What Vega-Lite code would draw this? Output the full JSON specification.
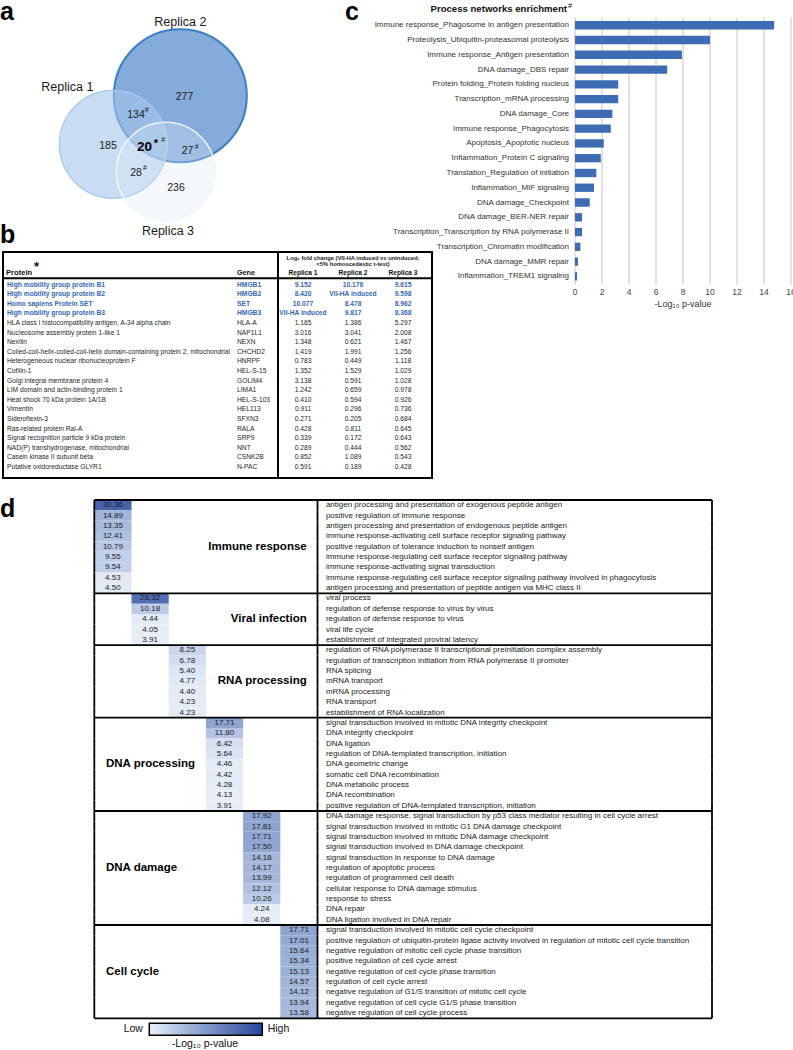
{
"$schema":"https://vega.github.io/schema/vega-lite/v6.json",
"width":793,
"height":1050,
"autosize":"none",
"padding":0,
"config":{
  "font":"Liberation Sans",
  "view":{"stroke":null},
  "legend":{"labelFont":"Liberation Sans","titleFont":"Liberation Sans"},
  "text":{"font":"Liberation Sans"}
},
"datasets":{
  "venn":[
    {"set":"Replica 2","cx":18.03,"cy":7.77,"r":6.65},
    {"set":"Replica 1","cx":11.33,"cy":12.63,"r":5.4},
    {"set":"Replica 3","cx":16.58,"cy":15.37,"r":4.95}
  ],
  "vennText":[
    {"t":"Replica 1","x":6.73,"y":6.93,"k":"rep"},
    {"t":"Replica 2","x":18.03,"y":0.37,"k":"rep"},
    {"t":"Replica 3","x":16.8,"y":21.3,"k":"rep"},
    {"t":"277","x":18.45,"y":7.87,"k":"num"},
    {"t":"134","x":13.6,"y":9.7,"k":"num"},
    {"t":"#","x":14.67,"y":9.2,"k":"sup"},
    {"t":"185","x":10.8,"y":12.77,"k":"num"},
    {"t":"20","x":14.45,"y":12.87,"k":"big"},
    {"t":"*","x":15.6,"y":12.6,"k":"star"},
    {"t":"#","x":16.33,"y":12.2,"k":"sup"},
    {"t":"27","x":18.75,"y":13.27,"k":"num"},
    {"t":"#","x":19.67,"y":12.87,"k":"sup"},
    {"t":"28","x":13.6,"y":15.47,"k":"num"},
    {"t":"#","x":14.5,"y":15.03,"k":"sup"},
    {"t":"236","x":17.6,"y":17.03,"k":"num"},
    {"t":"a","x":0.0,"y":0.2,"k":"letter"}
  ],
  "table":[
    {"protein":"High mobility group protein B1","gene":"HMGB1","r1":"9.152","r2":"10.176","r3":"9.615","hl":true},
    {"protein":"High mobility group protein B2","gene":"HMGB2","r1":"8.420","r2":"VII-HA induced","r3":"9.598","hl":true},
    {"protein":"Homo sapiens Protein SET","gene":"SET","r1":"10.077","r2":"8.478","r3":"8.962","hl":true},
    {"protein":"High mobility group protein B3","gene":"HMGB3","r1":"VII-HA induced","r2":"9.817","r3":"8.368","hl":true},
    {"protein":"HLA class I histocompatibility antigen, A-34 alpha chain","gene":"HLA-A","r1":"1.165","r2":"1.386","r3":"5.297","hl":false},
    {"protein":"Nucleosome assembly protein 1-like 1","gene":"NAP1L1","r1":"3.016","r2":"3.041","r3":"2.008","hl":false},
    {"protein":"Nexilin","gene":"NEXN","r1":"1.348","r2":"0.621","r3":"1.467","hl":false},
    {"protein":"Coiled-coil-helix-coiled-coil-helix domain-containing protein 2, mitochondrial","gene":"CHCHD2","r1":"1.419","r2":"1.991","r3":"1.256","hl":false},
    {"protein":"Heterogeneous nuclear ribonucleoprotein F","gene":"HNRPF","r1":"0.783","r2":"0.449","r3":"1.118","hl":false},
    {"protein":"Cofilin-1","gene":"HEL-S-15","r1":"1.352","r2":"1.529","r3":"1.029","hl":false},
    {"protein":"Golgi integral membrane protein 4","gene":"GOLIM4","r1":"3.138","r2":"0.591","r3":"1.028","hl":false},
    {"protein":"LIM domain and actin-binding protein 1","gene":"LIMA1","r1":"1.242","r2":"0.659","r3":"0.978","hl":false},
    {"protein":"Heat shock 70 kDa protein 1A/1B","gene":"HEL-S-103","r1":"0.410","r2":"0.594","r3":"0.926","hl":false},
    {"protein":"Vimentin","gene":"HEL113","r1":"0.911","r2":"0.296","r3":"0.736","hl":false},
    {"protein":"Sideroflexin-3","gene":"SFXN3","r1":"0.271","r2":"0.205","r3":"0.684","hl":false},
    {"protein":"Ras-related protein Ral-A","gene":"RALA","r1":"0.428","r2":"0.811","r3":"0.645","hl":false},
    {"protein":"Signal recognition particle 9 kDa protein","gene":"SRP9","r1":"0.339","r2":"0.172","r3":"0.643","hl":false},
    {"protein":"NAD(P) transhydrogenase, mitochondrial","gene":"NNT","r1":"0.289","r2":"0.444","r3":"0.562","hl":false},
    {"protein":"Casein kinase II subunit beta","gene":"CSNK2B","r1":"0.852","r2":"1.089","r3":"0.543","hl":false},
    {"protein":"Putative oxidoreductase GLYR1","gene":"N-PAC","r1":"0.591","r2":"0.189","r3":"0.428","hl":false}
  ],
  "networks":[
    {"process":"Immune response_Phagosome in antigen presentation","p":14.75},
    {"process":"Proteolysis_Ubiquitin-proteasomal proteolysis","p":10.0},
    {"process":"Immune response_Antigen presentation","p":7.92},
    {"process":"DNA damage_DBS repair","p":6.83},
    {"process":"Protein folding_Protein folding nucleus","p":3.2},
    {"process":"Transcription_mRNA processing","p":3.2},
    {"process":"DNA damage_Core","p":2.77},
    {"process":"Immune response_Phagocytosis","p":2.65},
    {"process":"Apoptosis_Apoptotic nucleus","p":2.13},
    {"process":"Inflammation_Protein C signaling","p":1.91},
    {"process":"Translation_Regulation of initiation","p":1.58},
    {"process":"Inflammation_MIF signaling","p":1.41},
    {"process":"DNA damage_Checkpoint","p":1.09},
    {"process":"DNA damage_BER-NER repair","p":0.52},
    {"process":"Transcription_Transcription by RNA polymerase II","p":0.52},
    {"process":"Transcription_Chromatin modification","p":0.4},
    {"process":"DNA damage_MMR repair","p":0.22},
    {"process":"Inflammation_TREM1 signaling","p":0.15}
  ],
  "ticks":[{"t":0},{"t":2},{"t":4},{"t":6},{"t":8},{"t":10},{"t":12},{"t":14},{"t":16}],
  "go":[
    {"group":"Immune response","v":30.36,"term":"antigen processing and presentation of exogenous peptide antigen","first":true},
    {"group":"Immune response","v":14.89,"term":"positive regulation of immune response"},
    {"group":"Immune response","v":13.35,"term":"antigen processing and presentation of endogenous peptide antigen"},
    {"group":"Immune response","v":12.41,"term":"immune response-activating cell surface receptor signaling pathway"},
    {"group":"Immune response","v":10.79,"term":"positive regulation of tolerance induction to nonself antigen","mid":true},
    {"group":"Immune response","v":9.55,"term":"immune response-regulating cell surface receptor signaling pathway"},
    {"group":"Immune response","v":9.54,"term":"immune response-activating signal transduction"},
    {"group":"Immune response","v":4.53,"term":"immune response-regulating cell surface receptor signaling pathway involved in phagocytosis"},
    {"group":"Immune response","v":4.50,"term":"antigen processing and presentation of peptide antigen via MHC class II"},
    {"group":"Viral infection","v":28.32,"term":"viral process","first":true},
    {"group":"Viral infection","v":10.18,"term":"regulation of defense response to virus by virus"},
    {"group":"Viral infection","v":4.44,"term":"regulation of defense response to virus","mid":true},
    {"group":"Viral infection","v":4.05,"term":"viral life cycle"},
    {"group":"Viral infection","v":3.91,"term":"establishment of integrated proviral latency"},
    {"group":"RNA processing","v":8.25,"term":"regulation of RNA polymerase II transcriptional preinitiation complex assembly","first":true},
    {"group":"RNA processing","v":6.78,"term":"regulation of transcription initiation from RNA polymerase II promoter"},
    {"group":"RNA processing","v":5.40,"term":"RNA splicing"},
    {"group":"RNA processing","v":4.77,"term":"mRNA transport","mid":true},
    {"group":"RNA processing","v":4.40,"term":"mRNA processing"},
    {"group":"RNA processing","v":4.23,"term":"RNA transport"},
    {"group":"RNA processing","v":4.23,"term":"establishment of RNA localization"},
    {"group":"DNA processing","v":17.71,"term":"signal transduction involved in mitotic DNA integrity checkpoint","first":true},
    {"group":"DNA processing","v":11.80,"term":"DNA integrity checkpoint"},
    {"group":"DNA processing","v":6.42,"term":"DNA ligation"},
    {"group":"DNA processing","v":5.64,"term":"regulation of DNA-templated transcription, initiation"},
    {"group":"DNA processing","v":4.46,"term":"DNA geometric change","mid":true},
    {"group":"DNA processing","v":4.42,"term":"somatic cell DNA recombination"},
    {"group":"DNA processing","v":4.28,"term":"DNA metabolic process"},
    {"group":"DNA processing","v":4.13,"term":"DNA recombination"},
    {"group":"DNA processing","v":3.91,"term":"positive regulation of DNA-templated transcription, initiation"},
    {"group":"DNA damage","v":17.92,"term":"DNA damage response, signal transduction by p53 class mediator resulting in cell cycle arrest","first":true},
    {"group":"DNA damage","v":17.81,"term":"signal transduction involved in mitotic G1 DNA damage checkpoint"},
    {"group":"DNA damage","v":17.71,"term":"signal transduction involved in mitotic DNA damage checkpoint"},
    {"group":"DNA damage","v":17.50,"term":"signal transduction involved in DNA damage checkpoint"},
    {"group":"DNA damage","v":14.18,"term":"signal transduction in response to DNA damage"},
    {"group":"DNA damage","v":14.17,"term":"regulation of apoptotic process","mid":true},
    {"group":"DNA damage","v":13.99,"term":"regulation of programmed cell death"},
    {"group":"DNA damage","v":12.12,"term":"cellular response to DNA damage stimulus"},
    {"group":"DNA damage","v":10.26,"term":"response to stress"},
    {"group":"DNA damage","v":4.24,"term":"DNA repair"},
    {"group":"DNA damage","v":4.08,"term":"DNA ligation involved in DNA repair"},
    {"group":"Cell cycle","v":17.71,"term":"signal transduction involved in mitotic cell cycle checkpoint","first":true},
    {"group":"Cell cycle","v":17.01,"term":"positive regulation of ubiquitin-protein ligase activity involved in regulation of mitotic cell cycle transition"},
    {"group":"Cell cycle","v":15.64,"term":"negative regulation of mitotic cell cycle phase transition"},
    {"group":"Cell cycle","v":15.34,"term":"positive regulation of cell cycle arrest"},
    {"group":"Cell cycle","v":15.13,"term":"negative regulation of cell cycle phase transition","mid":true},
    {"group":"Cell cycle","v":14.57,"term":"regulation of cell cycle arrest"},
    {"group":"Cell cycle","v":14.12,"term":"negative regulation of G1/S transition of mitotic cell cycle"},
    {"group":"Cell cycle","v":13.94,"term":"negative regulation of cell cycle G1/S phase transition"},
    {"group":"Cell cycle","v":13.58,"term":"negative regulation of cell cycle process","last":true}
  ]
},
"resolve":{
  "scale":{"x":"independent","y":"independent","size":"independent","color":"independent","strokeOpacity":"independent"},
  "axis":{"x":"independent","y":"independent"}
},
"layer":[
  {"layer":[
    {"data":{"name":"venn"},"transform":[{"filter":"datum.set == 'Replica 2'"}],
     "mark":{"type":"point","shape":"circle","filled":true,"fill":"#84abdb","fillOpacity":1,"stroke":"#3a7fc1","strokeWidth":2,"strokeOpacity":1,"opacity":1},
     "encoding":{
       "x":{"field":"cx","type":"quantitative","scale":{"domain":[0,79.3],"nice":false,"zero":false},"axis":null},
       "y":{"field":"cy","type":"quantitative","scale":{"domain":[-1.8,103.2],"nice":false,"zero":false,"reverse":true},"axis":null},
       "size":{"field":"r","type":"quantitative","scale":{"type":"pow","exponent":2,"domain":[0,10],"range":[0,40000]},"legend":null}
     }},
    {"data":{"name":"venn"},"transform":[{"filter":"datum.set == 'Replica 1'"}],
     "mark":{"type":"point","shape":"circle","filled":true,"fill":"#a3c6ea","fillOpacity":0.6,"stroke":"#a6c8ea","strokeWidth":1.2,"strokeOpacity":1,"opacity":1},
     "encoding":{
       "x":{"field":"cx","type":"quantitative"},
       "y":{"field":"cy","type":"quantitative"},
       "size":{"field":"r","type":"quantitative","legend":null}
     }},
    {"data":{"name":"venn"},"transform":[{"filter":"datum.set == 'Replica 3'"}],
     "mark":{"type":"point","shape":"circle","filled":true,"fill":"#dde9f7","fillOpacity":0.33,"stroke":"#f4f8fd","strokeWidth":1.5,"strokeOpacity":0.9,"opacity":1},
     "encoding":{
       "x":{"field":"cx","type":"quantitative"},
       "y":{"field":"cy","type":"quantitative"},
       "size":{"field":"r","type":"quantitative","legend":null}
     }},
    {"data":{"name":"vennText"},"transform":[{"filter":"datum.k == 'rep'"}],
     "mark":{"type":"text","fontSize":12.5,"baseline":"middle","color":"#1a1a1a"},
     "encoding":{"x":{"field":"x","type":"quantitative"},"y":{"field":"y","type":"quantitative"},"text":{"field":"t"}}},
    {"data":{"name":"vennText"},"transform":[{"filter":"datum.k == 'num'"}],
     "mark":{"type":"text","fontSize":10.5,"baseline":"middle","color":"#1a1a1a"},
     "encoding":{"x":{"field":"x","type":"quantitative"},"y":{"field":"y","type":"quantitative"},"text":{"field":"t"}}},
    {"data":{"name":"vennText"},"transform":[{"filter":"datum.k == 'sup'"}],
     "mark":{"type":"text","fontSize":7,"baseline":"middle","color":"#1a1a1a"},
     "encoding":{"x":{"field":"x","type":"quantitative"},"y":{"field":"y","type":"quantitative"},"text":{"field":"t"}}},
    {"data":{"name":"vennText"},"transform":[{"filter":"datum.k == 'big'"}],
     "mark":{"type":"text","fontSize":13.5,"fontWeight":"bold","baseline":"middle","color":"#000"},
     "encoding":{"x":{"field":"x","type":"quantitative"},"y":{"field":"y","type":"quantitative"},"text":{"field":"t"}}},
    {"data":{"name":"vennText"},"transform":[{"filter":"datum.k == 'star'"}],
     "mark":{"type":"text","fontSize":11,"fontWeight":"bold","baseline":"middle","color":"#000"},
     "encoding":{"x":{"field":"x","type":"quantitative"},"y":{"field":"y","type":"quantitative"},"text":{"field":"t"}}},
    {"data":{"name":"vennText"},"transform":[{"filter":"datum.k == 'letter'"}],
     "mark":{"type":"text","fontSize":25,"fontWeight":"bold","align":"left","baseline":"alphabetic","color":"#000"},
     "encoding":{"x":{"field":"x","type":"quantitative"},"y":{"field":"y","type":"quantitative"},"text":{"field":"t"}}}
  ]},
  {"layer":[
    {"data":{"values":[{"box":"border"}]},"mark":{"type":"rect","fill":"#ffffff","fillOpacity":0,"stroke":"#000","strokeWidth":2},
     "encoding":{"x":{"datum":3,"type":"quantitative","scale":{"domain":[0,793],"nice":false,"zero":false},"axis":null},"x2":{"datum":432},
                 "y":{"datum":-2.406,"type":"quantitative","scale":{"domain":[-28.656,80.719],"nice":false,"zero":false,"reverse":true},"axis":null},"y2":{"datum":21.135}}},
    {"data":{"values":[{"line":"header"}]},"mark":{"type":"rule","strokeWidth":2,"color":"#000"},
     "encoding":{"x":{"datum":3,"type":"quantitative"},"x2":{"datum":432},"y":{"datum":0.333,"type":"quantitative"}}},
    {"data":{"values":[{"line":"divider"}]},"mark":{"type":"rule","strokeWidth":2,"color":"#000"},
     "encoding":{"x":{"datum":278,"type":"quantitative"},"y":{"datum":-2.406,"type":"quantitative"},"y2":{"datum":21.135}}},
    {"data":{"values":[{"h":1}]},"mark":{"type":"text","text":"Log₂ fold change (VII-HA induced vs uninduced;","fontSize":5.8,"fontWeight":"bold","baseline":"middle","color":"#222"},
     "encoding":{"x":{"datum":353,"type":"quantitative"},"y":{"datum":-1.75,"type":"quantitative"}}},
    {"data":{"values":[{"h":1}]},"mark":{"type":"text","text":"<5% homoscedastic t-test)","fontSize":5.8,"fontWeight":"bold","baseline":"middle","color":"#222"},
     "encoding":{"x":{"datum":353,"type":"quantitative"},"y":{"datum":-1.16,"type":"quantitative"}}},
    {"data":{"values":[{"h":1}]},"mark":{"type":"text","text":"Replica 1","fontSize":6.6,"fontWeight":"bold","baseline":"middle","color":"#111"},
     "encoding":{"x":{"datum":303,"type":"quantitative"},"y":{"datum":-0.167,"type":"quantitative"}}},
    {"data":{"values":[{"h":1}]},"mark":{"type":"text","text":"Replica 2","fontSize":6.6,"fontWeight":"bold","baseline":"middle","color":"#111"},
     "encoding":{"x":{"datum":353,"type":"quantitative"},"y":{"datum":-0.167,"type":"quantitative"}}},
    {"data":{"values":[{"h":1}]},"mark":{"type":"text","text":"Replica 3","fontSize":6.6,"fontWeight":"bold","baseline":"middle","color":"#111"},
     "encoding":{"x":{"datum":403,"type":"quantitative"},"y":{"datum":-0.167,"type":"quantitative"}}},
    {"data":{"values":[{"h":1}]},"mark":{"type":"text","text":"Protein","fontSize":7.6,"fontWeight":"bold","align":"left","baseline":"middle","color":"#111"},
     "encoding":{"x":{"datum":6,"type":"quantitative"},"y":{"datum":-0.167,"type":"quantitative"}}},
    {"data":{"values":[{"h":1}]},"mark":{"type":"text","text":"*","fontSize":13,"fontWeight":"bold","align":"left","baseline":"middle","color":"#111"},
     "encoding":{"x":{"datum":34,"type":"quantitative"},"y":{"datum":-0.85,"type":"quantitative"}}},
    {"data":{"values":[{"h":1}]},"mark":{"type":"text","text":"Gene","fontSize":7.2,"fontWeight":"bold","align":"left","baseline":"middle","color":"#111"},
     "encoding":{"x":{"datum":237,"type":"quantitative"},"y":{"datum":-0.167,"type":"quantitative"}}},
    {"data":{"values":[{"h":1}]},"mark":{"type":"text","text":"b","fontSize":25,"fontWeight":"bold","align":"left","baseline":"alphabetic","color":"#000"},
     "encoding":{"x":{"datum":0,"type":"quantitative"},"y":{"datum":-3.31,"type":"quantitative"}}},
    {"data":{"name":"table"},"transform":[{"window":[{"op":"row_number","as":"i"}]}],
     "mark":{"type":"text","align":"left","baseline":"middle","fontSize":6.7,"fontWeight":{"expr":"datum.hl ? 'bold' : 'normal'"}},
     "encoding":{"x":{"datum":7,"type":"quantitative"},"y":{"field":"i","type":"quantitative"},"text":{"field":"protein"},
                 "color":{"condition":{"test":"datum.hl","value":"#3567b5"},"value":"#262626"}}},
    {"data":{"name":"table"},"transform":[{"window":[{"op":"row_number","as":"i"}]}],
     "mark":{"type":"text","align":"left","baseline":"middle","fontSize":6.7,"fontWeight":{"expr":"datum.hl ? 'bold' : 'normal'"}},
     "encoding":{"x":{"datum":237,"type":"quantitative"},"y":{"field":"i","type":"quantitative"},"text":{"field":"gene"},
                 "color":{"condition":{"test":"datum.hl","value":"#3567b5"},"value":"#262626"}}},
    {"data":{"name":"table"},"transform":[{"window":[{"op":"row_number","as":"i"}]}],
     "mark":{"type":"text","align":"center","baseline":"middle","fontSize":6.7,"fontWeight":{"expr":"datum.hl ? 'bold' : 'normal'"}},
     "encoding":{"x":{"datum":303,"type":"quantitative"},"y":{"field":"i","type":"quantitative"},"text":{"field":"r1"},
                 "color":{"condition":{"test":"datum.hl","value":"#3567b5"},"value":"#262626"}}},
    {"data":{"name":"table"},"transform":[{"window":[{"op":"row_number","as":"i"}]}],
     "mark":{"type":"text","align":"center","baseline":"middle","fontSize":6.7,"fontWeight":{"expr":"datum.hl ? 'bold' : 'normal'"}},
     "encoding":{"x":{"datum":353,"type":"quantitative"},"y":{"field":"i","type":"quantitative"},"text":{"field":"r2"},
                 "color":{"condition":{"test":"datum.hl","value":"#3567b5"},"value":"#262626"}}},
    {"data":{"name":"table"},"transform":[{"window":[{"op":"row_number","as":"i"}]}],
     "mark":{"type":"text","align":"center","baseline":"middle","fontSize":6.7,"fontWeight":{"expr":"datum.hl ? 'bold' : 'normal'"}},
     "encoding":{"x":{"datum":403,"type":"quantitative"},"y":{"field":"i","type":"quantitative"},"text":{"field":"r3"},
                 "color":{"condition":{"test":"datum.hl","value":"#3567b5"},"value":"#262626"}}}
  ]},
  {"layer":[
    {"data":{"name":"ticks"},
     "mark":{"type":"rule","color":"#d9d9d9","strokeWidth":1.5,"yOffset":-8,"y2Offset":8},
     "encoding":{
       "x":{"field":"t","type":"quantitative","scale":{"domain":[-42.593,16.148],"nice":false,"zero":false},"axis":null},
       "y":{"datum":"Immune response_Phagosome in antigen presentation","type":"nominal",
            "scale":{"domain":["Immune response_Phagosome in antigen presentation","Proteolysis_Ubiquitin-proteasomal proteolysis","Immune response_Antigen presentation","DNA damage_DBS repair","Protein folding_Protein folding nucleus","Transcription_mRNA processing","DNA damage_Core","Immune response_Phagocytosis","Apoptosis_Apoptotic nucleus","Inflammation_Protein C signaling","Translation_Regulation of initiation","Inflammation_MIF signaling","DNA damage_Checkpoint","DNA damage_BER-NER repair","Transcription_Transcription by RNA polymerase II","Transcription_Chromatin modification","DNA damage_MMR repair","Inflammation_TREM1 signaling"],
                     "range":[18,283.6],"paddingInner":0.437,"paddingOuter":0.207,"round":false},"axis":null},
       "y2":{"datum":"Inflammation_TREM1 signaling"}
     }},
    {"data":{"name":"networks"},
     "mark":{"type":"bar","color":"#3d6cb4"},
     "encoding":{
       "y":{"field":"process","type":"nominal","sort":null,"axis":null},
       "x":{"field":"p","type":"quantitative","axis":null}
     }},
    {"data":{"name":"networks"},
     "mark":{"type":"text","align":"right","baseline":"middle","dx":-6,"fontSize":8,"color":"#333"},
     "encoding":{"x":{"datum":0,"type":"quantitative"},"y":{"field":"process","type":"nominal","sort":null},"text":{"field":"process"}}},
    {"data":{"name":"ticks"},
     "mark":{"type":"text","align":"center","baseline":"middle","dy":15.5,"fontSize":8.5,"color":"#444"},
     "encoding":{"x":{"field":"t","type":"quantitative"},"y":{"datum":"Inflammation_TREM1 signaling","type":"nominal"},"text":{"field":"t","type":"quantitative"}}},
    {"data":{"values":[{"h":1}]},
     "mark":{"type":"text","text":"-Log₁₀ p-value","fontSize":9,"align":"center","baseline":"middle","dy":28,"color":"#333"},
     "encoding":{"x":{"datum":8,"type":"quantitative"},"y":{"datum":"Inflammation_TREM1 signaling","type":"nominal"}}},
    {"data":{"values":[{"h":1}]},
     "mark":{"type":"text","text":"Process networks enrichment","fontSize":9.6,"fontWeight":"bold","align":"right","baseline":"alphabetic","dx":-8,"dy":-13,"color":"#111"},
     "encoding":{"x":{"datum":0,"type":"quantitative"},"y":{"datum":"Immune response_Phagosome in antigen presentation","type":"nominal"}}},
    {"data":{"values":[{"h":1}]},
     "mark":{"type":"text","text":"#","fontSize":7.5,"align":"left","baseline":"alphabetic","dx":-7,"dy":-17,"color":"#111"},
     "encoding":{"x":{"datum":0,"type":"quantitative"},"y":{"datum":"Immune response_Phagosome in antigen presentation","type":"nominal"}}},
    {"data":{"values":[{"h":1}]},
     "mark":{"type":"text","text":"c","fontSize":25,"fontWeight":"bold","align":"left","baseline":"alphabetic","dx":-230,"dy":-5,"color":"#000"},
     "encoding":{"x":{"datum":0,"type":"quantitative"},"y":{"datum":"Immune response_Phagosome in antigen presentation","type":"nominal"}}}
  ]},
  {"data":{"name":"go"},"layer":[
    {"mark":{"type":"rect"},
     "encoding":{
       "x":{"field":"group","type":"nominal","scale":{"domain":["Immune response","Viral infection","RNA processing","DNA processing","DNA damage","Cell cycle"],"range":[94.3,317.5],"paddingInner":0,"paddingOuter":0,"round":false},"axis":null},
       "y":{"field":"term","type":"nominal","sort":null,"scale":{"range":[500,1018.3],"paddingInner":0,"paddingOuter":0,"round":false},"axis":null},
       "color":{"field":"v","type":"quantitative","scale":{"domain":[3.5,36],"range":["#eaf0f9","#22479a"]},
         "legend":{"orient":"none","legendX":149.3,"legendY":1023.3,"direction":"horizontal","gradientLength":113,"gradientThickness":12,
                   "gradientStrokeColor":"#000","gradientStrokeWidth":1.5,"labelExpr":"''","labelOpacity":0,"title":null,"padding":0}}
     }},
    {"mark":{"type":"text","fontSize":8,"color":"#222","baseline":"middle"},
     "encoding":{"x":{"field":"group","type":"nominal"},"y":{"field":"term","type":"nominal","sort":null},"text":{"field":"v","type":"quantitative","format":".2f"}}},
    {"mark":{"type":"text","fontSize":8,"color":"#222","align":"left","baseline":"middle","dx":27},
     "encoding":{"x":{"datum":"Cell cycle","type":"nominal"},"y":{"field":"term","type":"nominal","sort":null},"text":{"field":"term"}}},
    {"mark":{"type":"text","fontSize":11.5,"fontWeight":"bold","align":"right","baseline":"middle","dx":7.8,"color":"#000"},
     "encoding":{"x":{"datum":"Cell cycle","type":"nominal"},"y":{"field":"term","type":"nominal","sort":null},
                 "text":{"condition":{"test":"datum.mid && (datum.group == 'Immune response' || datum.group == 'Viral infection' || datum.group == 'RNA processing')","field":"group","type":"nominal"},"value":""}}},
    {"mark":{"type":"text","fontSize":11.5,"fontWeight":"bold","align":"left","baseline":"middle","dx":-6.9,"color":"#000"},
     "encoding":{"x":{"datum":"Immune response","type":"nominal"},"y":{"field":"term","type":"nominal","sort":null},
                 "text":{"condition":{"test":"datum.mid && (datum.group == 'DNA processing' || datum.group == 'DNA damage' || datum.group == 'Cell cycle')","field":"group","type":"nominal"},"value":""}}},
    {"mark":{"type":"rule","color":"#000","strokeWidth":1.8,"xOffset":-18.6,"x2Offset":413.1},
     "encoding":{"x":{"datum":"Immune response","type":"nominal"},"x2":{"datum":"Cell cycle"},
                 "y":{"field":"term","type":"nominal","sort":null,"bandPosition":0},
                 "strokeOpacity":{"condition":{"test":"datum.first","value":1},"value":0}}},
    {"mark":{"type":"rule","color":"#000","strokeWidth":1.8,"xOffset":-18.6,"x2Offset":413.1},
     "encoding":{"x":{"datum":"Immune response","type":"nominal"},"x2":{"datum":"Cell cycle"},
                 "y":{"field":"term","type":"nominal","sort":null,"bandPosition":1},
                 "strokeOpacity":{"condition":{"test":"datum.last","value":1},"value":0}}},
    {"mark":{"type":"rule","color":"#000","strokeWidth":1.8,"xOffset":-18.6,"yOffset":-5.183,"y2Offset":5.183},
     "encoding":{"x":{"datum":"Immune response","type":"nominal"},"y":{"field":"term","type":"nominal","sort":null},"y2":{"field":"term"}}},
    {"mark":{"type":"rule","color":"#000","strokeWidth":1.8,"xOffset":18.6,"yOffset":-5.183,"y2Offset":5.183},
     "encoding":{"x":{"datum":"Cell cycle","type":"nominal"},"y":{"field":"term","type":"nominal","sort":null},"y2":{"field":"term"}}},
    {"mark":{"type":"rule","color":"#000","strokeWidth":1.8,"xOffset":413.1,"yOffset":-5.183,"y2Offset":5.183},
     "encoding":{"x":{"datum":"Cell cycle","type":"nominal"},"y":{"field":"term","type":"nominal","sort":null},"y2":{"field":"term"}}},
    {"mark":{"type":"text","fontSize":25,"fontWeight":"bold","align":"left","baseline":"alphabetic","dx":-112.9,"dy":11.8,"color":"#000"},
     "encoding":{"x":{"datum":"Immune response","type":"nominal"},"y":{"field":"term","type":"nominal","sort":null},
                 "text":{"condition":{"test":"datum.first && datum.group == 'Immune response'","value":"d"},"value":""}}},
    {"mark":{"type":"text","fontSize":10.5,"align":"right","baseline":"middle","dx":30,"dy":16,"color":"#111"},
     "encoding":{"x":{"datum":"Immune response","type":"nominal"},"y":{"field":"term","type":"nominal","sort":null},
                 "text":{"condition":{"test":"datum.last","value":"Low"},"value":""}}},
    {"mark":{"type":"text","fontSize":10.5,"align":"left","baseline":"middle","dx":154.8,"dy":16,"color":"#111"},
     "encoding":{"x":{"datum":"Immune response","type":"nominal"},"y":{"field":"term","type":"nominal","sort":null},
                 "text":{"condition":{"test":"datum.last","value":"High"},"value":""}}},
    {"mark":{"type":"text","fontSize":10.5,"align":"center","baseline":"middle","dx":92.1,"dy":31.2,"color":"#111"},
     "encoding":{"x":{"datum":"Immune response","type":"nominal"},"y":{"field":"term","type":"nominal","sort":null},
                 "text":{"condition":{"test":"datum.last","value":"-Log₁₀ p-value"},"value":""}}}
  ]}
]
}
